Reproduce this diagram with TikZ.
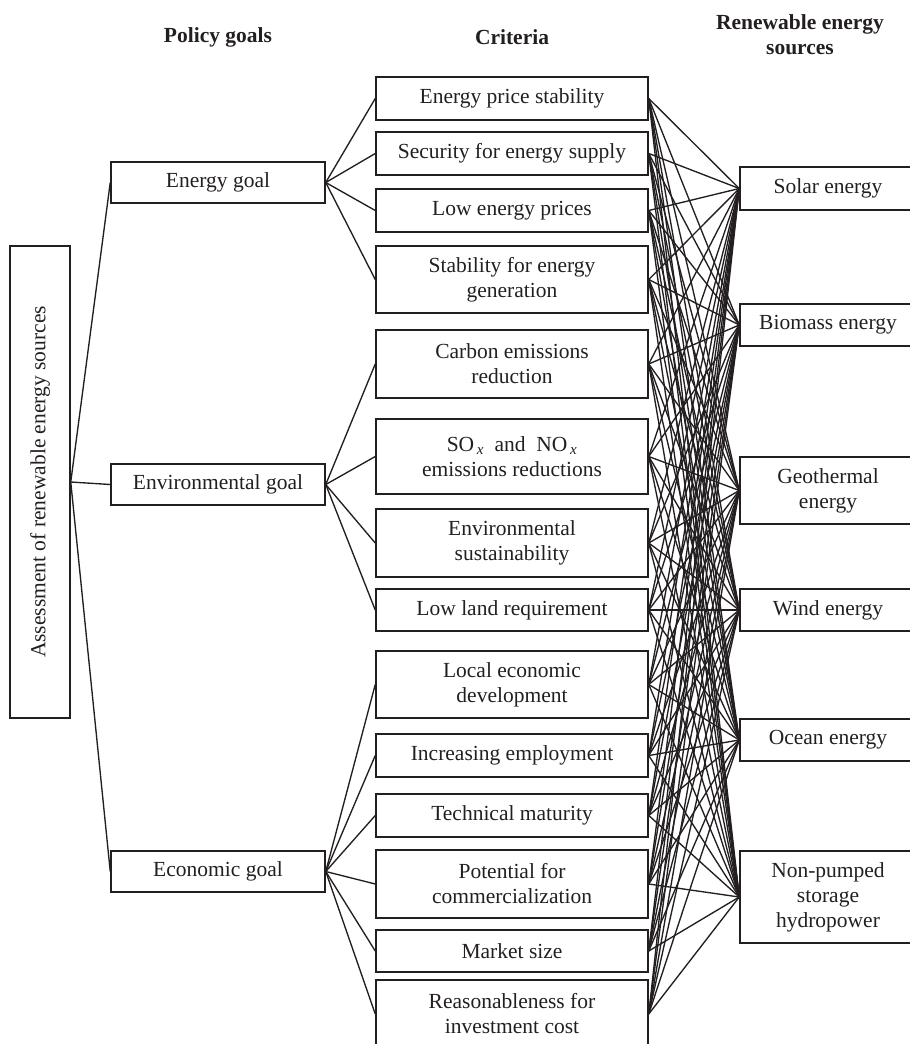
\documentclass[tikz,border=0pt]{standalone}
\usepackage{fontspec}
\setmainfont{Liberation Serif}
\definecolor{ink}{HTML}{231F20}
\begin{document}
\begin{tikzpicture}[x=1pt,y=-1pt,
  font=\fontsize{21.5}{25}\selectfont,
  box/.style={draw=ink, line width=1.5pt, inner sep=0pt, align=center, text=ink},
  link/.style={draw=ink, line width=1.35pt},
  head/.style={font=\fontsize{21.5}{25}\selectfont\bfseries, align=center, text=ink},
  critbox/.style={box, minimum width=272pt},
  srcbox/.style={box, minimum width=176pt},
  goalbox/.style={box, minimum width=214pt, minimum height=41pt}]
\useasboundingbox (0,0) rectangle (910,1044);
\clip (0,0) rectangle (910,1044);

% headings
\node[head] (h1) at (218,37) {Policy goals};
\node[head] (h2) at (512,37) {Criteria};
\node[head] (h3) at (800,35) {Renewable energy\\sources};

% root
\node[box, minimum width=60pt, minimum height=472pt] (root) at (40,482) {};
\node[rotate=90, text=ink] (roottext) at (40,482) {Assessment of renewable energy sources};

% goals
\node[goalbox] (g1) at (218,182.5) {Energy goal};
\node[goalbox] (g2) at (218,484.5) {Environmental goal};
\node[goalbox] (g3) at (218,871.5) {Economic goal};

% criteria
\node[critbox, minimum height=43pt] (c1) at (512,98.5) {Energy price stability};
\node[critbox, minimum height=43pt] (c2) at (512,153.5) {Security for energy supply};
\node[critbox, minimum height=43pt] (c3) at (512,210.5) {Low energy prices};
\node[critbox, minimum height=67pt] (c4) at (512,279.5) {Stability for energy\\generation};
\node[critbox, minimum height=68pt] (c5) at (512,364) {Carbon emissions\\reduction};
\node[critbox, minimum height=75pt] (c6) at (512,456.5) {SO\textsubscript{\,\textit{x}}\ \ and\ \ NO\textsubscript{\,\textit{x}}\\emissions reductions};
\node[critbox, minimum height=68pt] (c7) at (512,543) {Environmental\\sustainability};
\node[critbox, minimum height=42pt] (c8) at (512,610) {Low land requirement};
\node[critbox, minimum height=67pt] (c9) at (512,684.5) {Local economic\\development};
\node[critbox, minimum height=43pt] (c10) at (512,755.5) {Increasing employment};
\node[critbox, minimum height=43pt] (c11) at (512,815.5) {Technical maturity};
\node[critbox, minimum height=68pt] (c12) at (512,884) {Potential for\\commercialization};
\node[critbox, minimum height=42pt] (c13) at (512,951) {Market size};
\node[critbox, minimum height=68pt] (c14) at (512,1014) {Reasonableness for\\investment cost};

% sources
\node[srcbox, minimum height=43pt] (s1) at (828,188.5) {Solar energy};
\node[srcbox, minimum height=42pt] (s2) at (828,325) {Biomass energy};
\node[srcbox, minimum height=67pt] (s3) at (828,490.5) {Geothermal\\energy};
\node[srcbox, minimum height=42pt] (s4) at (828,610) {Wind energy};
\node[srcbox, minimum height=42pt] (s5) at (828,740) {Ocean energy};
\node[srcbox, minimum height=92pt] (s6) at (828,897) {Non-pumped\\storage\\hydropower};

% root to goals
\foreach \g in {g1,g2,g3} \draw[link] (root.east) -- (\g.west);
% goals to criteria
\foreach \c in {c1,c2,c3,c4} \draw[link] (g1.east) -- (\c.west);
\foreach \c in {c5,c6,c7,c8} \draw[link] (g2.east) -- (\c.west);
\foreach \c in {c9,c10,c11,c12,c13,c14} \draw[link] (g3.east) -- (\c.west);
% criteria to sources
\foreach \i in {1,...,14} {
  \foreach \j in {1,...,6} {
    \draw[link] (c\i.east) -- (s\j.west);
  }
}
\end{tikzpicture}
\end{document}
